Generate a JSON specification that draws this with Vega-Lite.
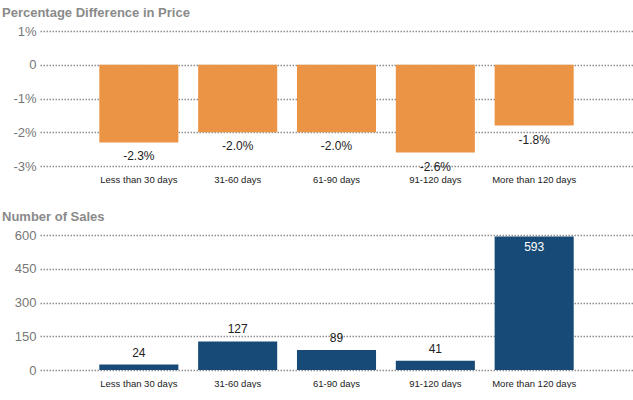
{
  "$schema": "https://vega.github.io/schema/vega-lite/v6.json",
  "padding": {"left": 0, "top": 7, "right": 0, "bottom": 0},
  "background": "white",
  "spacing": 27,
  "datasets": {
    "t": [
      {"bucket": "Less than 30 days", "pct": -0.023, "sales": 24},
      {"bucket": "31-60 days", "pct": -0.020, "sales": 127},
      {"bucket": "61-90 days", "pct": -0.020, "sales": 89},
      {"bucket": "91-120 days", "pct": -0.026, "sales": 41},
      {"bucket": "More than 120 days", "pct": -0.018, "sales": 593}
    ]
  },
  "config": {
    "locale": {"number": {"decimal": ".", "thousands": ",", "grouping": [3], "currency": ["$", ""], "minus": "-"}},
    "view": {"stroke": null},
    "font": "Liberation Sans",
    "title": {"fontSize": 13, "fontWeight": "bold", "color": "#8a8a8a", "anchor": "start", "frame": "group", "dx": -38, "offset": 5, "font": "Liberation Sans"},
    "axisX": {"domain": false, "ticks": false, "labelAngle": 0, "labelColor": "#222", "labelFontSize": 9.5, "labelPadding": 8, "title": null, "grid": false},
    "axisY": {"domain": false, "ticks": false, "labelColor": "#777", "labelFontSize": 13, "labelPadding": 4, "labelOverlap": false, "title": null, "grid": true, "gridColor": "#8f8f8f", "gridDash": [1.5, 1.5], "gridWidth": 1.5, "minExtent": 40, "maxExtent": 40},
    "scale": {"bandPaddingInner": 0.2, "bandPaddingOuter": 0.6}
  },
  "vconcat": [
    {
      "title": "Percentage Difference in Price",
      "width": 593,
      "height": 135,
      "data": {"name": "t"},
      "encoding": {
        "x": {"field": "bucket", "type": "nominal", "sort": null},
        "y": {"field": "pct", "type": "quantitative", "scale": {"domain": [-0.03, 0.01], "nice": false, "zero": true},
              "axis": {"values": [-0.03, -0.02, -0.01, 0, 0.01], "tickCount": 5, "labelOverlap": false, "labelExpr": "datum.value == 0 ? '0' : format(datum.value, '.0%')"}}
      },
      "layer": [
        {
          "mark": {"type": "bar", "color": "#EC9445"}
        },
        {
          "mark": {"type": "text", "baseline": "middle", "dy": 14, "fontSize": 12, "color": "#222"},
          "encoding": {
            "text": {"field": "pct", "type": "quantitative", "format": ".1%"}
          }
        }
      ]
    },
    {
      "title": "Number of Sales",
      "width": 593,
      "height": 135,
      "data": {"name": "t"},
      "encoding": {
        "x": {"field": "bucket", "type": "nominal", "sort": null},
        "y": {"field": "sales", "type": "quantitative", "scale": {"domain": [0, 600], "nice": false},
              "axis": {"values": [0, 150, 300, 450, 600], "tickCount": 5, "labelOverlap": false}}
      },
      "layer": [
        {
          "mark": {"type": "bar", "color": "#174A76"}
        },
        {
          "transform": [{"filter": "datum.sales < 550"}],
          "mark": {"type": "text", "baseline": "middle", "dy": -12, "fontSize": 12, "color": "#222"},
          "encoding": {
            "text": {"field": "sales", "type": "quantitative"}
          }
        },
        {
          "transform": [{"filter": "datum.sales >= 550"}],
          "mark": {"type": "text", "baseline": "middle", "dy": 10, "fontSize": 12, "color": "white"},
          "encoding": {
            "text": {"field": "sales", "type": "quantitative"}
          }
        }
      ]
    }
  ]
}
